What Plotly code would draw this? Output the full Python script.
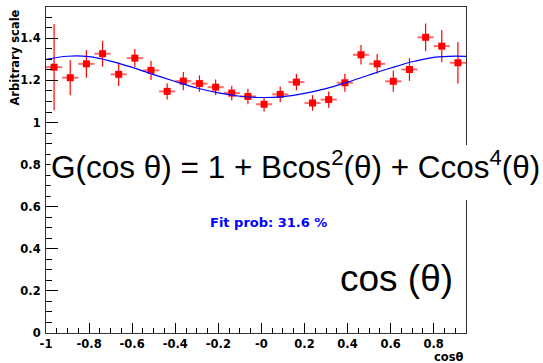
import plotly.graph_objects as go

# ---- data ----
x_centers = [-0.9625, -0.8875, -0.8125, -0.7375, -0.6625, -0.5875, -0.5125, -0.4375,
             -0.3625, -0.2875, -0.2125, -0.1375, -0.0625, 0.0125, 0.0875, 0.1625,
             0.2375, 0.3125, 0.3875, 0.4625, 0.5375, 0.6125, 0.6875, 0.7625,
             0.8375, 0.9125]
y_values = [1.263, 1.213, 1.279, 1.327, 1.229, 1.306, 1.248, 1.148,
            1.197, 1.185, 1.168, 1.140, 1.124, 1.087, 1.134, 1.192,
            1.093, 1.109, 1.189, 1.322, 1.279, 1.196, 1.252, 1.405,
            1.363, 1.284]
y_errors = [0.205, 0.083, 0.066, 0.061, 0.055, 0.043, 0.046, 0.039,
            0.043, 0.039, 0.037, 0.035, 0.037, 0.034, 0.037, 0.039,
            0.037, 0.039, 0.043, 0.046, 0.047, 0.050, 0.054, 0.066,
            0.077, 0.099]
x_half_width = 0.0375

fit_x = [-1.0, -0.9, -0.8, -0.7, -0.6, -0.5, -0.4, -0.3, -0.2, -0.1, 0.0,
         0.1, 0.2, 0.3, 0.4, 0.5, 0.6, 0.7, 0.8, 0.9, 0.95]
fit_y = [1.300, 1.315, 1.313, 1.292, 1.262, 1.228, 1.195, 1.164, 1.141, 1.125, 1.119,
         1.123, 1.139, 1.161, 1.192, 1.226, 1.259, 1.289, 1.310, 1.316, 1.314]

x_tickvals = [-1, -0.8, -0.6, -0.4, -0.2, 0, 0.2, 0.4, 0.6, 0.8]
x_ticktext = ["-1", "-0.8", "-0.6", "-0.4", "-0.2", "-0", "0.2", "0.4", "0.6", "0.8"]
y_tickvals = [0, 0.2, 0.4, 0.6, 0.8, 1.0, 1.2, 1.4]
y_ticktext = ["0", "0.2", "0.4", "0.6", "0.8", "1", "1.2", "1.4"]

formula_text = "G(cos θ) = 1 + Bcos<sup>2</sup>(θ) + Ccos<sup>4</sup>(θ)"
fitprob_text = "Fit prob: 31.6 %"
costheta_text = "cos (θ)"
x_title = "cosθ"
y_title = "Arbitrary scale"

# ---- layout geometry (pixels) ----
W, H = 543, 363
L, R, T, B = 46, 77, 7, 30
PW, PH = W - L - R, H - T - B


def px(p):
    return (p - L) / PW


def py(p):
    return (H - B - p) / PH


small_font = dict(family="DejaVu Sans", size=11.5, color="black", weight="bold")

fig = go.Figure()
fig.add_trace(go.Scatter(
    x=x_centers, y=y_values, mode="markers",
    marker=dict(symbol="square", size=7, color="#ff0000", line=dict(width=0)),
    error_y=dict(type="data", array=y_errors, visible=True, color="#ff0000",
                 thickness=1.2, width=0),
    error_x=dict(type="constant", value=x_half_width, visible=True,
                 color="#ff6a6a", thickness=2, width=0),
    showlegend=False, hoverinfo="skip",
))
fig.add_trace(go.Scatter(
    x=fit_x, y=fit_y, mode="lines", line=dict(color="#0000ff", width=1.2, shape="spline"),
    showlegend=False, hoverinfo="skip",
))

fig.update_layout(
    template="none",
    width=W, height=H,
    margin=dict(l=L, r=R, t=T, b=B, pad=0, autoexpand=False),
    paper_bgcolor="white", plot_bgcolor="white",
    xaxis=dict(range=[-1, 0.95], tickmode="array", tickvals=x_tickvals, ticktext=x_ticktext,
               ticks="inside", ticklen=10, tickwidth=1, tickcolor="black",
               minor=dict(tickmode="linear", tick0=-1, dtick=0.05, ticks="inside",
                          ticklen=5, tickwidth=1, tickcolor="black", showgrid=False),
               showline=True, linecolor="#333", linewidth=1, mirror=True, automargin=False,
               showgrid=False, zeroline=False, tickfont=small_font, ticklabelstandoff=0),
    yaxis=dict(range=[0, 1.549], tickmode="array", tickvals=y_tickvals, ticktext=y_ticktext,
               ticks="inside", ticklen=12, tickwidth=1, tickcolor="black",
               minor=dict(tickmode="linear", tick0=0, dtick=0.05, ticks="inside",
                          ticklen=6, tickwidth=1, tickcolor="black", showgrid=False),
               showline=True, linecolor="#333", linewidth=1, mirror=True, automargin=False,
               showgrid=False, zeroline=False, tickfont=small_font, ticklabelstandoff=2),
    shapes=[dict(type="rect", xref="paper", yref="paper",
                 x0=px(50.5), x1=px(545), y0=py(200), y1=py(145),
                 fillcolor="white", line=dict(width=0), layer="above")],
    annotations=[
        dict(text=formula_text, xref="paper", yref="paper", x=px(295), y=py(165),
             xanchor="center", yanchor="middle", showarrow=False,
             font=dict(family="Liberation Sans", size=31.5, color="black")),
        dict(text=fitprob_text, xref="paper", yref="paper", x=px(268), y=py(222),
             xanchor="center", yanchor="middle", showarrow=False,
             font=dict(family="DejaVu Sans", size=13, color="#0000ff", weight="bold")),
        dict(text=costheta_text, xref="paper", yref="paper", x=px(396), y=py(278),
             xanchor="center", yanchor="middle", showarrow=False,
             font=dict(family="Liberation Sans", size=37, color="black")),
        dict(text=x_title, xref="paper", yref="paper", x=px(466), y=py(357.5),
             xanchor="right", yanchor="middle", showarrow=False,
             font=dict(family="DejaVu Sans", size=11.5, color="black", weight="bold")),
        dict(text=y_title, xref="paper", yref="paper", x=px(14.6), y=py(8),
             xanchor="center", yanchor="top", showarrow=False, textangle=-90,
             font=dict(family="DejaVu Sans", size=11.5, color="black", weight="bold")),
    ],
)

fig.write_html(
    "out.html",
    config={"displayModeBar": False, "staticPlot": True},
    post_script="document.body.style.margin='0';document.body.style.padding='0';"
                "document.documentElement.style.overflow='hidden';",
)
